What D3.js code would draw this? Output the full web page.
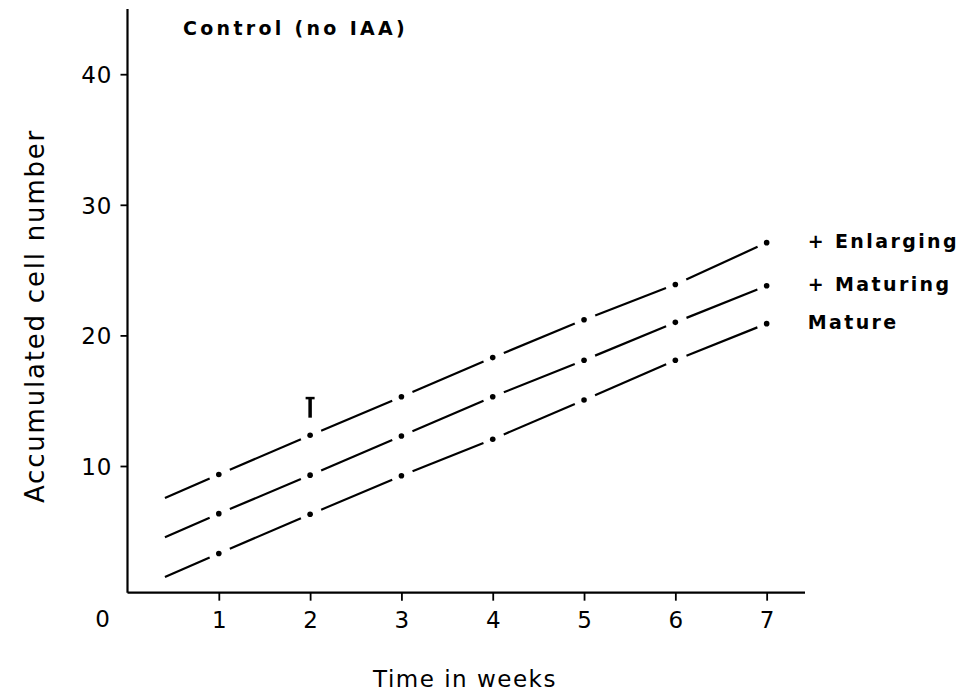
<!DOCTYPE html>
<html>
<head>
<meta charset="utf-8">
<script src="https://cdn.jsdelivr.net/npm/d3@7"></script>
<style>
  body { margin: 0; background: #fff; }
  svg text { font-family: "DejaVu Sans", sans-serif; fill: #000; }
</style>
</head>
<body>
<svg id="chart" width="960" height="692"></svg>
<script>
// data
var weeks = [0.41, 1, 2, 3, 4, 5, 6, 7];   // first value = start of the drawn line (no dot)
var enlarging = [7.55, 9.35, 12.35, 15.3, 18.3, 21.2, 23.9, 27.1];
var maturing  = [4.55, 6.35, 9.3, 12.3, 15.3, 18.1, 21.0, 23.8];
var mature    = [1.5, 3.3, 6.3, 9.25, 12.05, 15.05, 18.1, 20.9];
var seriesNames = ["+ Enlarging", "+ Maturing", "Mature"];
var xTicks = [1, 2, 3, 4, 5, 6, 7];
var yTicks = [10, 20, 30, 40];
// single error bar shown at week 2 (above Enlarging)
var errWeek = 2, errLow = 13.7, errHigh = 15.2;

var svg = d3.select("#chart");

var x = d3.scaleLinear().domain([0, 7.42]).range([127.5, 805]);
var y = d3.scaleLinear().domain([0, 45]).range([596.6, 8.9]);
var axisY = y(0.3);   // x axis line sits a hair above zero

// y axis
var yAxis = svg.append("g")
    .attr("transform", "translate(" + x(0) + ",0)")
    .call(d3.axisLeft(y).tickValues(yTicks).tickSize(7).tickPadding(8).tickSizeOuter(0));
yAxis.select(".domain").attr("d", "M0," + y(45) + "V" + axisY).attr("stroke-width", 2.2);
yAxis.selectAll(".tick line").attr("stroke-width", 1.8);
yAxis.selectAll("text").style("font-size", "23px").style("letter-spacing", "1px").attr("dy", "0.36em");

// x axis
var xAxis = svg.append("g")
    .attr("transform", "translate(0," + axisY + ")")
    .call(d3.axisBottom(x).tickValues(xTicks).tickSize(8).tickPadding(7).tickSizeOuter(0));
xAxis.select(".domain").attr("d", "M" + x(0) + ",0H" + x(7.42)).attr("stroke-width", 2.2);
xAxis.selectAll(".tick line").attr("stroke-width", 1.8);
xAxis.selectAll("text").style("font-size", "23px").attr("dy", "0.9em");

// origin label
svg.append("text")
    .attr("x", x(0) - 25).attr("y", 627)
    .attr("text-anchor", "middle")
    .style("font-size", "23px")
    .text("0");

// axis titles
svg.append("text")
    .attr("x", 465).attr("y", 687)
    .attr("text-anchor", "middle")
    .style("font-size", "23px").style("letter-spacing", "1.5px")
    .text("Time in weeks");

svg.append("text")
    .attr("transform", "translate(44,316) rotate(-90)")
    .attr("text-anchor", "middle")
    .style("font-size", "26px").style("letter-spacing", "1.8px")
    .text("Accumulated cell number");

svg.append("text")
    .attr("x", 183).attr("y", 35)
    .style("font-size", "19px").style("font-weight", "bold").style("letter-spacing", "3.3px")
    .text("Control (no IAA)");

// dash-dot lines: segments broken around each point
var gap = 12;
var allSeries = [enlarging, maturing, mature];

allSeries.forEach(function(vals, si) {
    var pts = weeks.map(function(w, i) { return [x(w), y(vals[i])]; });
    var segs = [];
    for (var i = 0; i < pts.length - 1; i++) {
        var p0 = pts[i], p1 = pts[i + 1];
        var dx = p1[0] - p0[0], dy = p1[1] - p0[1];
        var len = Math.sqrt(dx * dx + dy * dy);
        var ux = dx / len, uy = dy / len;
        var g0 = i === 0 ? 0 : gap;
        segs.push([p0[0] + ux * g0, p0[1] + uy * g0, p1[0] - ux * (gap - 2), p1[1] - uy * (gap - 2)]);
    }
    svg.append("g").selectAll("line")
        .data(segs)
        .enter()
        .append("line")
        .attr("x1", function(d) { return d[0]; })
        .attr("y1", function(d) { return d[1]; })
        .attr("x2", function(d) { return d[2]; })
        .attr("y2", function(d) { return d[3]; })
        .attr("stroke", "#000")
        .attr("stroke-width", 2.2);

    svg.append("g").selectAll("circle")
        .data(weeks.slice(1))
        .enter()
        .append("circle")
        .attr("cx", function(d) { return x(d); })
        .attr("cy", function(d, i) { return y(vals[i + 1]); })
        .attr("r", 2.8)
        .attr("fill", "#000");

    svg.append("text")
        .attr("x", x(7) + 41)
        .attr("y", y(vals[vals.length - 1]))
        .attr("dy", "0.3em")
        .style("font-size", "19px").style("font-weight", "bold").style("letter-spacing", "2.4px")
        .text(seriesNames[si]);
});

// error bar
svg.append("line")
    .attr("x1", x(errWeek)).attr("x2", x(errWeek))
    .attr("y1", y(errHigh)).attr("y2", y(errLow))
    .attr("stroke", "#000").attr("stroke-width", 3.5);
svg.append("line")
    .attr("x1", x(errWeek) - 4.5).attr("x2", x(errWeek) + 4.5)
    .attr("y1", y(errHigh)).attr("y2", y(errHigh))
    .attr("stroke", "#000").attr("stroke-width", 2.5);
</script>
</body>
</html>
